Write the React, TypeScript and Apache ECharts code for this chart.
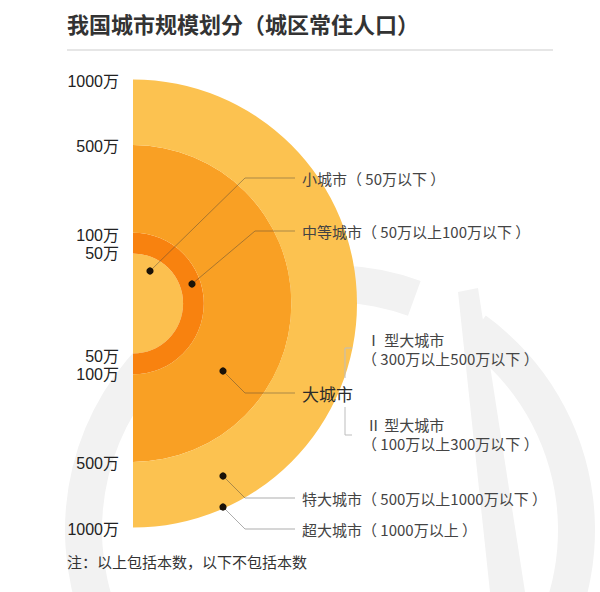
import React, { useEffect, useRef } from "react";
import * as echarts from "echarts";

// Population thresholds (万人), inner to outer
const thresholds = [50, 100, 500, 1000];
const bandColors = ["#FCC04F", "#F8820F", "#F9A024", "#FCC250"];
const tickLabels = thresholds.map((v) => `${v}万`);

const categories = [
  "小城市（ 50万以下 ）",
  "中等城市（ 50万以上100万以下 ）",
  "大城市",
  "特大城市（ 500万以上1000万以下 ）",
  "超大城市（ 1000万以上 ）",
];
const subCategories = [
  "Ⅰ 型大城市",
  "（ 300万以上500万以下 ）",
  "Ⅱ 型大城市",
  "（ 100万以上300万以下 ）",
];
const title = "我国城市规模划分（城区常住人口）";
const note = "注：以上包括本数，以下不包括本数";

const FONT = '"Noto Sans CJK SC", "Noto Sans", sans-serif';
const NUM_FONT = '"Liberation Sans", "Noto Sans CJK SC", sans-serif';

export default function App() {
  const ref = useRef<HTMLDivElement>(null);

  useEffect(() => {
    if (!ref.current) return;
    const chart = echarts.init(ref.current, undefined, { renderer: "svg" });

    const cx = 133;
    const cy = 303.5;
    const Rmax = 224;
    const rOf = (v: number) => Rmax * Math.sqrt(v / thresholds[thresholds.length - 1]);

    const series: any[] = thresholds.map((v, i) => ({
      type: "pie",
      center: [cx, cy],
      radius: [i === 0 ? 0 : rOf(thresholds[i - 1]), rOf(v)],
      startAngle: 90,
      clockwise: true,
      silent: true,
      z: 2,
      label: { show: false },
      labelLine: { show: false },
      emphasis: { disabled: true },
      itemStyle: { borderWidth: 0 },
      data: [
        { value: 1, itemStyle: { color: bandColors[i] } },
        { value: 1, itemStyle: { color: "rgba(0,0,0,0)" } },
      ],
    }));

    const graphics: any[] = [];

    // faint watermark
    const wm = "#f2f2f2";
    graphics.push({
      type: "sector",
      z: -10,
      silent: true,
      shape: { cx: 330, cy: 530, r: 265, r0: 228, startAngle: (150 * Math.PI) / 180, endAngle: (290 * Math.PI) / 180, clockwise: true },
      style: { fill: wm },
    });
    graphics.push({
      type: "sector",
      z: -10,
      silent: true,
      shape: { cx: 330, cy: 530, r: 265, r0: 228, startAngle: (306 * Math.PI) / 180, endAngle: (400 * Math.PI) / 180, clockwise: true },
      style: { fill: wm },
    });
    graphics.push({
      type: "polygon",
      z: -10,
      silent: true,
      shape: { points: [[458, 292], [478, 288], [525, 592], [490, 592]] },
      style: { fill: wm },
    });

    // Title & separator
    graphics.push({
      type: "text",
      x: 67,
      y: 23,
      z: 10,
      style: { text: title, fontSize: 22, fontWeight: "bold", fill: "#333", fontFamily: FONT, verticalAlign: "middle" },
    });
    graphics.push({
      type: "line",
      z: 10,
      shape: { x1: 67, y1: 50, x2: 553, y2: 50 },
      style: { stroke: "#e6e6e6", lineWidth: 2 },
    });

    // Left scale labels
    thresholds.forEach((v, i) => {
      const r = rOf(v);
      const nudge = i === 0 ? 1 : i === 1 ? -1 : 0; // separate the tight 50/100 pairs slightly
      [
        [cy - r, -nudge],
        [cy + r, nudge],
      ].forEach(([y, d]) => {
        graphics.push({
          type: "text",
          x: 119,
          y: y + 1.5 + d,
          z: 10,
          style: { text: tickLabels[i], fontSize: 16, lineHeight: 17, fill: "#222", fontFamily: NUM_FONT, align: "right", verticalAlign: "middle" },
        });
      });
    });

    // Annotations: dot, knee, text y
    const lineColor = "rgba(60,60,60,0.42)";
    const anns = [
      { dot: [150, 271], knee: [245, 178], y: 178, size: 15 },
      { dot: [192, 284], knee: [255, 231], y: 231, size: 15 },
      { dot: [223, 371], knee: [245, 393], y: 393, size: 17 },
      { dot: [223, 476], knee: [245, 498], y: 498, size: 15 },
      { dot: [223, 507], knee: [245, 529], y: 529, size: 15 },
    ];
    anns.forEach((a, i) => {
      graphics.push({
        type: "polyline",
        z: 10,
        shape: { points: [a.dot, a.knee, [295, a.y]] },
        style: { stroke: lineColor, lineWidth: 1, fill: null },
      });
      graphics.push({
        type: "circle",
        z: 11,
        shape: { cx: a.dot[0], cy: a.dot[1], r: 3.6 },
        style: { fill: "#1a1208" },
      });
      graphics.push({
        type: "text",
        x: 302,
        y: a.y + 0.5,
        z: 10,
        style: { text: categories[i], fontSize: a.size, fill: i === 2 ? "#2a2a2a" : "#444", fontFamily: FONT, verticalAlign: "middle" },
      });
    });

    // Bracket for large city subtypes
    graphics.push({
      type: "polyline",
      z: 10,
      shape: { points: [[352, 348], [345, 348], [345, 378]] },
      style: { stroke: "#bdbdbd", lineWidth: 1, fill: null },
    });
    graphics.push({
      type: "polyline",
      z: 10,
      shape: { points: [[345, 407], [345, 435], [352, 435]] },
      style: { stroke: "#bdbdbd", lineWidth: 1, fill: null },
    });
    const subPos = [
      [366, 339],
      [362, 358],
      [366, 424],
      [362, 443],
    ];
    subCategories.forEach((t, i) => {
      graphics.push({
        type: "text",
        x: subPos[i][0],
        y: subPos[i][1],
        z: 10,
        style: { text: t, fontSize: 15, lineHeight: 17, fill: "#444", fontFamily: FONT, verticalAlign: "middle" },
      });
    });

    // Footnote
    graphics.push({
      type: "text",
      x: 67,
      y: 561,
      z: 10,
      style: { text: note, fontSize: 15, fill: "#333", fontFamily: FONT, verticalAlign: "middle" },
    });

    chart.setOption({
      animation: false,
      backgroundColor: "#ffffff",
      series,
      graphic: { elements: graphics },
    });

    return () => chart.dispose();
  }, []);

  return (
    <div
      ref={ref}
      style={{ position: "fixed", left: 0, top: 0, width: 600, height: 592 }}
    />
  );
}
